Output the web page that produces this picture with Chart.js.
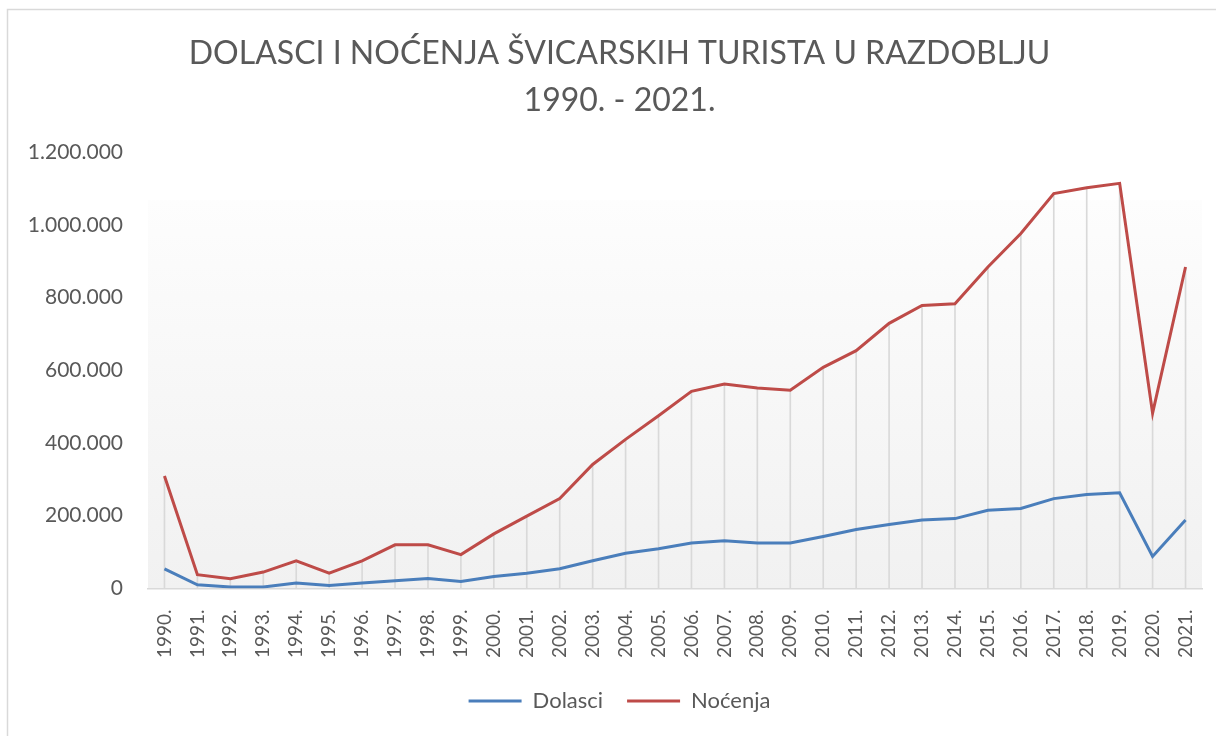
<!DOCTYPE html>
<html>
<head>
<meta charset="utf-8">
<script src="https://cdn.jsdelivr.net/npm/chart.js@4/dist/chart.umd.min.js"></script>
<style>
  html, body { margin: 0; padding: 0; background: #ffffff; }
  #wrap { position: relative; width: 1216px; height: 736px; }
  canvas { display: block; }
</style>
</head>
<body>
<div id="wrap"><canvas id="c" width="1216" height="736"></canvas></div>
<script>
const titleLines = ['DOLASCI I NOĆENJA ŠVICARSKIH TURISTA U RAZDOBLJU', '1990. - 2021.'];
const years = ['1990.', '1991.', '1992.', '1993.', '1994.', '1995.', '1996.', '1997.', '1998.', '1999.',
  '2000.', '2001.', '2002.', '2003.', '2004.', '2005.', '2006.', '2007.', '2008.', '2009.',
  '2010.', '2011.', '2012.', '2013.', '2014.', '2015.', '2016.', '2017.', '2018.', '2019.',
  '2020.', '2021.'];
const dolasci = [54000, 10000, 4000, 4000, 15000, 8000, 15000, 21000, 27000, 19000,
  33000, 42000, 54000, 76000, 97000, 109000, 125000, 131000, 125000, 125000,
  143000, 162000, 176000, 188000, 192000, 215000, 220000, 247000, 258000, 263000,
  88000, 188000];
const nocenja = [309000, 38000, 27000, 45000, 76000, 42000, 76000, 120000, 120000, 93000,
  150000, 199000, 247000, 341000, 410000, 475000, 542000, 562000, 551000, 545000,
  608000, 654000, 729000, 778000, 783000, 884000, 976000, 1086000, 1102000, 1114000,
  482000, 884000];
const seriesNames = ['Dolasci', 'Noćenja'];
const yMin = 0, yMax = 1200000, yStep = 200000;

const TEXT = '#595959';
const FONT = 'Lato, "Open Sans", sans-serif';

function fmt(v) {
  return String(Math.round(v)).replace(/\B(?=(\d{3})+(?!\d))/g, '.');
}

const framePlugin = {
  id: 'frame',
  afterLayout(chart) {
    // let the y tick labels extend to the left of the axis box without being clipped
    if (chart.scales.y) chart.scales.y.left = 0;
  },
  beforeDraw(chart) {
    const ctx = chart.ctx;
    const a = chart.chartArea;
    ctx.save();
    ctx.fillStyle = '#ffffff';
    ctx.fillRect(0, 0, chart.width, chart.height);
    ctx.strokeStyle = '#d9d9d9';
    ctx.lineWidth = 1.5;
    ctx.beginPath();
    ctx.moveTo(7.5, chart.height);
    ctx.lineTo(7.5, 9.5);
    ctx.lineTo(chart.width, 9.5);
    ctx.stroke();
    const top = a.top + (a.bottom - a.top) * 0.11;
    const g = ctx.createLinearGradient(0, top, 0, a.bottom);
    g.addColorStop(0, '#fdfdfd');
    g.addColorStop(1, '#f1f1f1');
    ctx.fillStyle = g;
    ctx.fillRect(a.left, top, a.right - a.left, a.bottom - top);
    ctx.restore();
  }
};

new Chart(document.getElementById('c'), {
  data: {
    labels: years,
    datasets: [
      {
        type: 'line', label: seriesNames[0], data: dolasci,
        borderColor: '#4a7ebb', backgroundColor: '#4a7ebb', borderWidth: 3,
        pointRadius: 0, pointHoverRadius: 0, pointStyle: 'line', tension: 0, order: 1
      },
      {
        type: 'line', label: seriesNames[1], data: nocenja,
        borderColor: '#be4b48', backgroundColor: '#be4b48', borderWidth: 3,
        pointRadius: 0, pointHoverRadius: 0, pointStyle: 'line', tension: 0, order: 2
      },
      {
        type: 'bar', label: 'drop', data: nocenja,
        backgroundColor: '#d9d9d9', barThickness: 1, order: 3
      }
    ]
  },
  options: {
    responsive: false,
    animation: false,
    events: [],
    layout: { padding: { top: 12, left: 37, right: 14, bottom: 14 } },
    plugins: {
      title: {
        display: true, text: titleLines, color: TEXT,
        font: { family: FONT, size: 32, weight: 'normal', lineHeight: 1.47 },
        padding: { top: 18, bottom: 28 }
      },
      legend: {
        position: 'bottom',
        labels: {
          color: TEXT, font: { family: FONT, size: 22 },
          usePointStyle: true, pointStyleWidth: 53, boxHeight: 3,
          padding: 24,
          filter: (item) => item.datasetIndex < 2
        }
      },
      tooltip: { enabled: false }
    },
    scales: {
      x: {
        offset: true,
        grid: { display: false, drawTicks: false },
        border: { display: true, color: '#d9d9d9', width: 1.5 },
        ticks: { color: TEXT, font: { family: FONT, size: 19 }, minRotation: 90, maxRotation: 90, padding: 21, autoSkip: false },
        afterFit: (s) => { s.height -= 13; s.paddingLeft = 0; s.paddingRight = 0; }
      },
      y: {
        min: yMin, max: yMax,
        grid: { display: false, drawTicks: false },
        border: { display: false },
        ticks: { stepSize: yStep, color: TEXT, font: { family: FONT, size: 21 }, padding: 25, callback: (v) => fmt(v) },
        afterFit: (s) => { s.width = 111; }
      }
    }
  },
  plugins: [framePlugin]
});
</script>
</body>
</html>
